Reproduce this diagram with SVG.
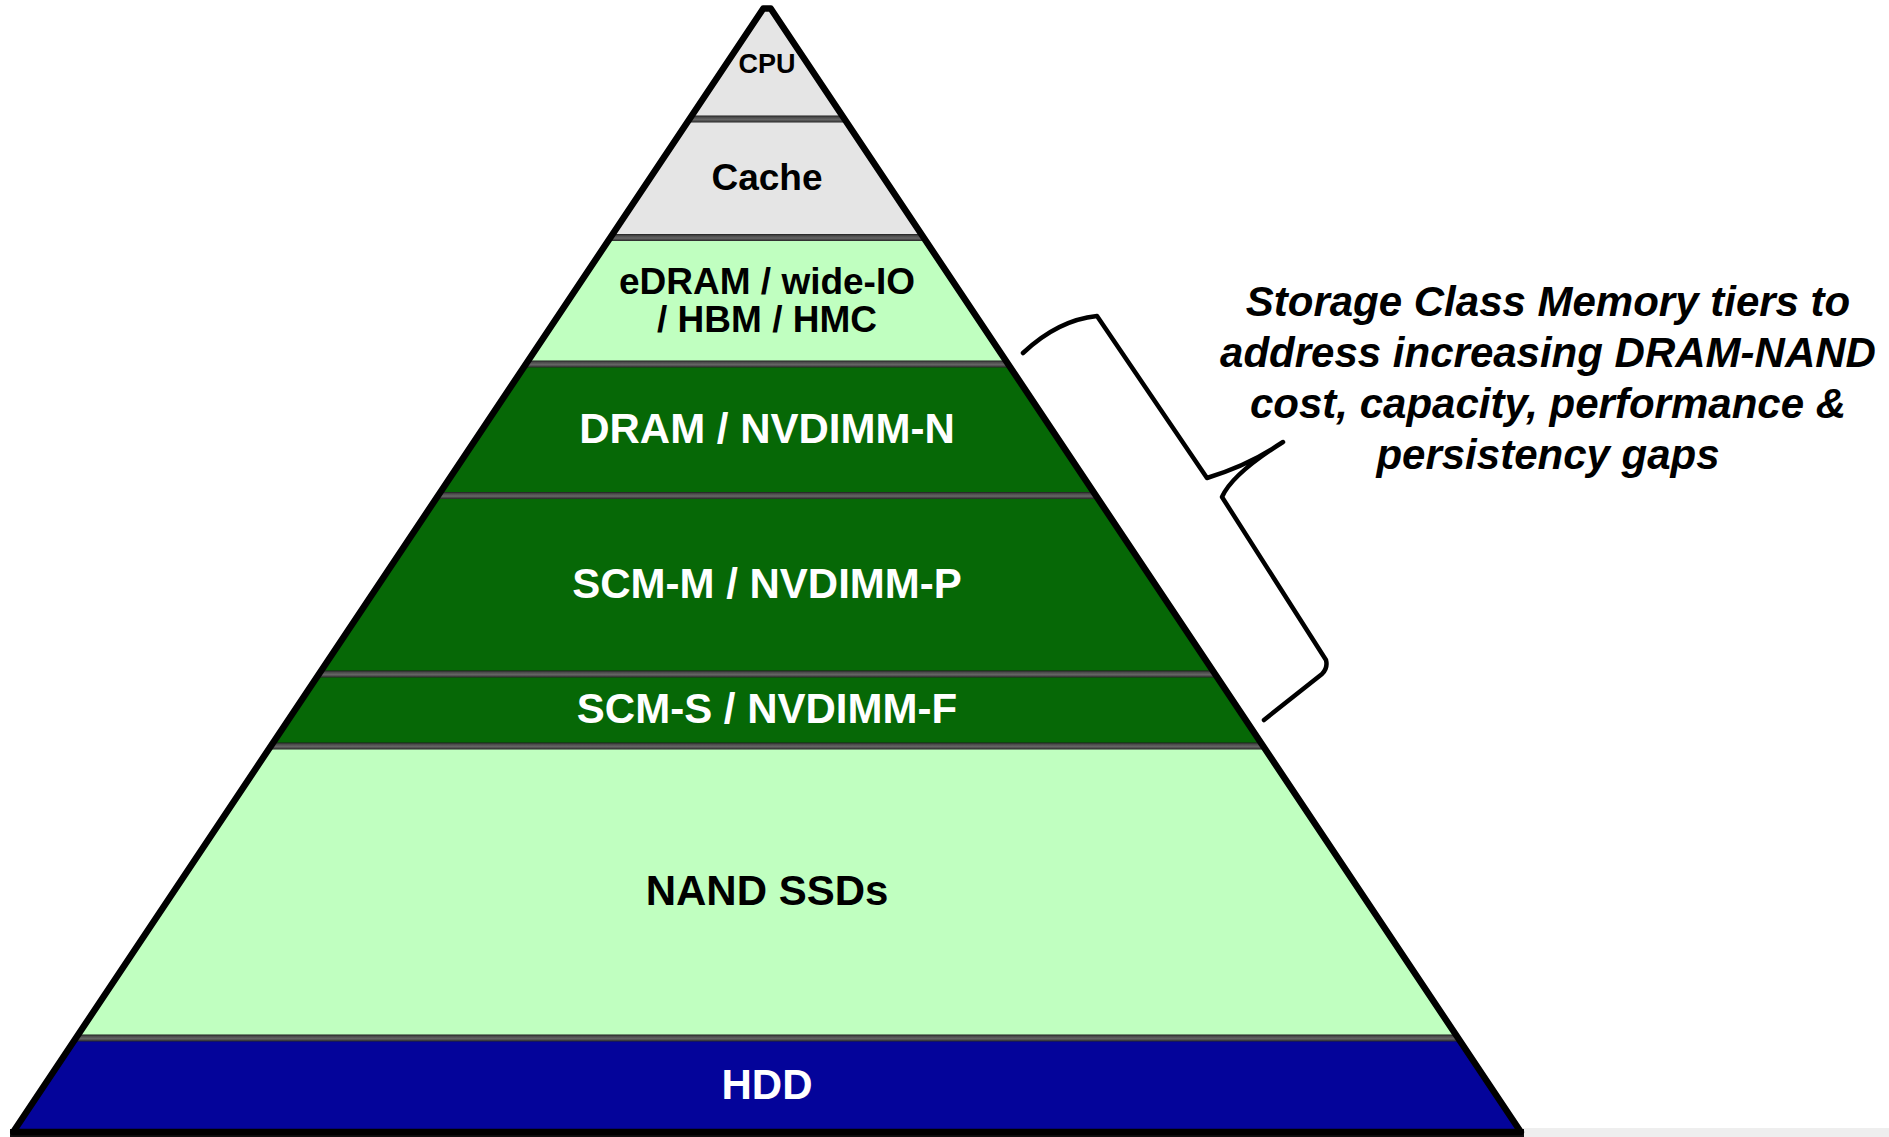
<svg xmlns="http://www.w3.org/2000/svg" width="1889" height="1137" viewBox="0 0 1889 1137">
<defs>
<linearGradient id="sep" x1="0" y1="0" x2="0" y2="1">
<stop offset="0" stop-color="#1e1e1e"/>
<stop offset="0.25" stop-color="#4a4a4a"/>
<stop offset="0.6" stop-color="#666"/>
<stop offset="1" stop-color="#262626"/>
</linearGradient>
</defs>
<style>
.t{font-family:"Liberation Sans",Arial,sans-serif;font-weight:bold;text-anchor:middle}
.dk{fill:#000}
.wt{fill:#fff}
.gray{fill:#e5e5e5}
.lg{fill:#c0ffc0}
.dg{fill:#066806}
.bl{fill:#04049a}
.sep{fill:url(#sep)}
.ann{font-family:"Liberation Sans",Arial,sans-serif;font-weight:bold;font-style:italic;text-anchor:middle;font-size:42px;fill:#000}
</style>
<rect x="0" y="0" width="1889" height="1137" fill="#fff"/>
<rect x="1520" y="1128" width="369" height="9" fill="#eeeeee"/>
<g id="tier-cpu">
<polygon class="gray" points="763.3,8.5 770.7,8.5 844.45,119 689.55,119"/>
<text class="t dk" x="767" y="73" font-size="27">CPU</text>
</g>
<g id="tier-cache">
<polygon class="gray" points="689.55,119 844.45,119 923.58,237.5 610.42,237.5"/>
<text class="t dk" x="767" y="190" font-size="37">Cache</text>
</g>
<g id="tier-edram">
<polygon class="lg" points="610.42,237.5 923.58,237.5 1008.04,364 525.96,364"/>
<text class="t dk" x="767" y="294" font-size="37">eDRAM / wide-IO</text>
<text class="t dk" x="767" y="332" font-size="37">/ HBM / HMC</text>
</g>
<g id="tier-dram">
<polygon class="dg" points="525.96,364 1008.04,364 1095.85,495.5 438.15,495.5"/>
<text class="t wt" x="767" y="443" font-size="42">DRAM / NVDIMM-N</text>
</g>
<g id="tier-scm-m">
<polygon class="dg" points="438.15,495.5 1095.85,495.5 1215.03,674 318.97,674"/>
<text class="t wt" x="767" y="598" font-size="42">SCM-M / NVDIMM-P</text>
</g>
<g id="tier-scm-s">
<polygon class="dg" points="318.97,674 1215.03,674 1263.11,746 270.89,746"/>
<text class="t wt" x="767" y="723" font-size="42">SCM-S / NVDIMM-F</text>
</g>
<g id="tier-nand">
<polygon class="lg" points="270.89,746 1263.11,746 1458.07,1038 75.93,1038"/>
<text class="t dk" x="767" y="905" font-size="42">NAND SSDs</text>
</g>
<g id="tier-hdd">
<polygon class="bl" points="75.93,1038 1458.07,1038 1520.83,1132 13.17,1132"/>
<text class="t wt" x="767" y="1099" font-size="42">HDD</text>
</g>
<g id="separators">
<polygon class="sep" points="691.88,115.5 842.12,115.5 846.79,122.5 687.21,122.5"/>
<polygon class="sep" points="612.76,234 921.24,234 925.91,241 608.09,241"/>
<polygon class="sep" points="528.3,360.5 1005.7,360.5 1010.37,367.5 523.63,367.5"/>
<polygon class="sep" points="440.49,492 1093.51,492 1098.18,499 435.82,499"/>
<polygon class="sep" points="321.31,670.5 1212.69,670.5 1217.36,677.5 316.64,677.5"/>
<polygon class="sep" points="273.23,742.5 1260.77,742.5 1265.44,749.5 268.56,749.5"/>
<polygon class="sep" points="78.27,1034.5 1455.73,1034.5 1460.4,1041.5 73.6,1041.5"/>
<rect x="10" y="1129" width="1514" height="8" fill="#111"/>
</g>
<g id="outline">
<polygon points="763.3,8.5 770.7,8.5 1520.83,1132 13.17,1132" fill="none" stroke="#000" stroke-width="6.5" stroke-linejoin="round"/>
</g>
<g id="connectors">
<path d="M1023,353 Q1058,320 1097,316 L1207,478 Q1250,465 1283,442 Q1232,474 1222,497 L1326,660 Q1328,668 1322,674 L1264,720" fill="none" stroke="#000" stroke-width="4.5" stroke-linejoin="round" stroke-linecap="round"/>
</g>
<g id="annotation">
<text class="ann" x="1548" y="316">Storage Class Memory tiers to</text>
<text class="ann" x="1548" y="367">address increasing DRAM-NAND</text>
<text class="ann" x="1548" y="418">cost, capacity, performance &amp;</text>
<text class="ann" x="1548" y="469">persistency gaps</text>
</g>
</svg>
